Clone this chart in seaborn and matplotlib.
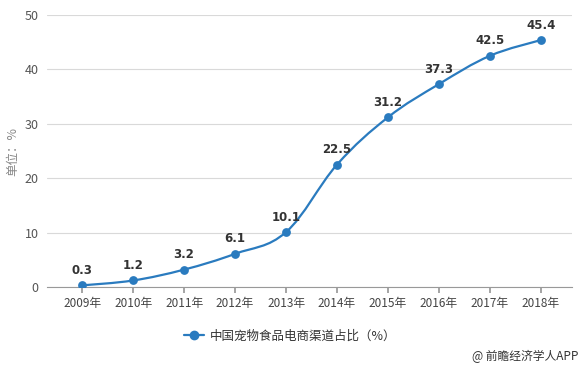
import numpy as np
import pandas as pd
import matplotlib
matplotlib.use("Agg")
import matplotlib.pyplot as plt
from matplotlib.path import Path
from matplotlib.patches import PathPatch
from matplotlib.lines import Line2D
import seaborn as sns

years = ["2009年", "2010年", "2011年", "2012年", "2013年", "2014年", "2015年", "2016年", "2017年", "2018年"]
values = [0.3, 1.2, 3.2, 6.1, 10.1, 22.5, 31.2, 37.3, 42.5, 45.4]
series_name = "中国宠物食品电商渠道占比（%）"
y_ticks = [0, 10, 20, 30, 40, 50]

sns.set_theme(style="white")
plt.rcParams['font.family'] = ['Noto Sans CJK SC', 'DejaVu Sans']

color = "#2A7BBF"
df = pd.DataFrame({"year": years, "value": values, "x": np.arange(len(years))})

fig = plt.figure(figsize=(5.84, 3.69), dpi=100)
ax = fig.add_axes([47/584, 82/369, (572-47)/584, (354-82)/369])

# smooth curve through the data points (cubic Bezier, Catmull-Rom style)
xs = df["x"].to_numpy(dtype=float)
ys = df["value"].to_numpy(dtype=float)
verts = [(xs[0], ys[0])]
codes = [Path.MOVETO]
t = 0.18
for i in range(len(xs) - 1):
    x0, y0 = (xs[i-1], ys[i-1]) if i > 0 else (xs[i], ys[i])
    x1, y1 = xs[i], ys[i]
    x2, y2 = xs[i+1], ys[i+1]
    x3, y3 = (xs[i+2], ys[i+2]) if i + 2 < len(xs) else (xs[i+1], ys[i+1])
    c1 = (x1 + (x2 - x0) * t, y1 + (y2 - y0) * t)
    c2 = (x2 - (x3 - x1) * t, y2 - (y3 - y1) * t)
    verts += [c1, c2, (x2, y2)]
    codes += [Path.CURVE4] * 3
ax.add_patch(PathPatch(Path(verts, codes), facecolor="none", edgecolor=color, lw=1.6, zorder=2))

sns.scatterplot(data=df, x="x", y="value", ax=ax, color=color, s=40, edgecolor=color,
                linewidth=0, zorder=3, legend=False)

for xi, yi in zip(xs, ys):
    ax.annotate(f"{yi:.1f}", (xi, yi), textcoords="offset points",
                xytext=(0, 6), ha="center", va="bottom", fontsize=8.5, fontweight="bold",
                color="#333333", family=['DejaVu Sans'])

ax.set_xlim(-0.69, 9.61)
ax.set_ylim(0, 50)
ax.set_yticks(y_ticks)
ax.set_xticks(xs)
ax.set_xticklabels(years)
ax.yaxis.grid(True, color="#D9D9D9", lw=0.8)
ax.set_axisbelow(True)
for s in ["top", "right", "left"]:
    ax.spines[s].set_visible(False)
ax.spines["bottom"].set_color("#999999")
ax.spines["bottom"].set_linewidth(0.8)
ax.tick_params(axis="x", length=4, color="#999999", labelsize=8.5, labelcolor="#444444", pad=3, bottom=True)
ax.tick_params(axis="y", length=0, labelsize=9, labelcolor="#555555", pad=6)
ax.set_xlabel("")
ax.set_ylabel("单位：%", fontsize=9, color="#888888", labelpad=4)

h = Line2D([0], [0], color=color, lw=1.6, marker="o", markersize=6)
fig.legend([h], [series_name], loc="center", bbox_to_anchor=(290/584, 1 - 336/369),
           frameon=False, fontsize=9, handlelength=1.6, handletextpad=0.5, labelcolor="#333333")

fig.text(578/584, 1 - 356/369, "@ 前瞻经济学人APP", ha="right", va="center", fontsize=8.5, color="#333333")

fig.savefig("out.png", dpi=100)
